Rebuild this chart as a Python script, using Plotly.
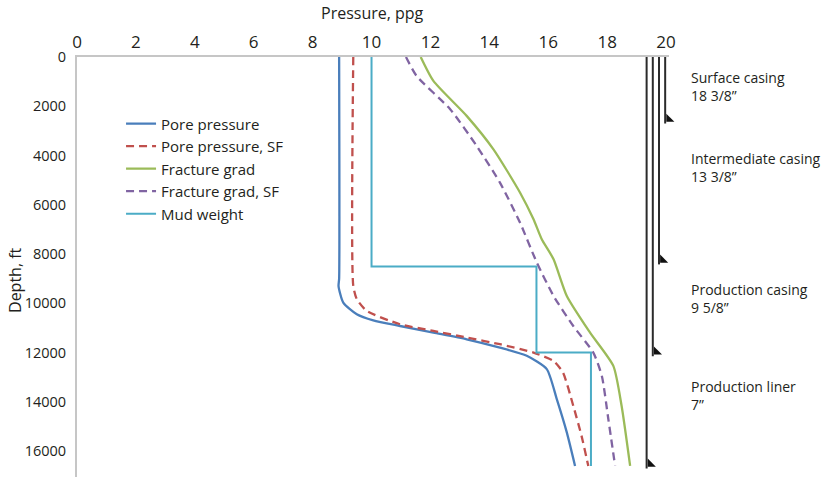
import plotly.graph_objects as go

# ---- data ----
pore_depth = [0, 9000, 9300, 9970, 10440, 10690, 10920, 11190, 11460, 11800, 12130, 12670, 13890, 15240, 16600]
pore_ppg = [8.9, 8.9, 8.88, 9.04, 9.5, 10.06, 10.97, 12.1, 13.23, 14.36, 15.27, 15.95, 16.29, 16.63, 16.91]

pore_sf_depth = [0, 9290, 9830, 10310, 10850, 11120, 11390, 11660, 12000, 12340, 12810, 14160, 15380, 16600]
pore_sf_ppg = [9.38, 9.38, 9.5, 9.84, 10.97, 12.1, 13.23, 14.36, 15.5, 16.18, 16.5, 16.85, 17.13, 17.36]

frac_depth = [0, 970, 2390, 3750, 5500, 6590, 7400, 8210, 9700, 11190, 12540, 14160, 16600]
frac_ppg = [11.67, 12.1, 13.23, 14.14, 15.04, 15.5, 15.78, 16.18, 16.63, 17.42, 18.21, 18.49, 18.78]

frac_sf_depth = [0, 770, 2120, 3610, 5100, 6720, 8340, 9700, 10920, 12000, 12950, 14700, 16600]
frac_sf_ppg = [11.17, 11.53, 12.67, 13.57, 14.36, 15.04, 15.61, 16.18, 16.85, 17.53, 17.82, 18.04, 18.27]

mud_depth = [0, 8500, 8500, 12000, 12000, 16600]
mud_ppg = [10.0, 10.0, 15.6, 15.6, 17.45, 17.45]

casing_names = ["Surface casing", "Intermediate casing", "Production casing", "Production liner"]
casing_sizes = ["18 3/8\u201d", "13 3/8\u201d", "9 5/8\u201d", "7\u201d"]
casing_shoe_depth = [2700, 8420, 12150, 16700]
casing_label_depth = [1210, 4480, 9790, 13750]
casing_line_x = [19.97, 19.76, 19.55, 19.34]

x_ticks = list(range(0, 21, 2))
y_ticks = list(range(0, 16001, 2000))

TXT = "#231f20"
FONT = "Open Sans, Lato, sans-serif"

fig = go.Figure()

fig.add_trace(go.Scatter(x=pore_ppg, y=pore_depth, mode="lines", name="Pore pressure",
                         line=dict(color="#4A7EBB", width=2.3, shape="spline", smoothing=0.6)))
fig.add_trace(go.Scatter(x=pore_sf_ppg, y=pore_sf_depth, mode="lines", name="Pore pressure, SF",
                         line=dict(color="#C0504D", width=2.3, dash="8px,5px", shape="spline", smoothing=0.6)))
fig.add_trace(go.Scatter(x=frac_ppg, y=frac_depth, mode="lines", name="Fracture grad",
                         line=dict(color="#9BBB59", width=2.3, shape="spline", smoothing=0.6)))
fig.add_trace(go.Scatter(x=frac_sf_ppg, y=frac_sf_depth, mode="lines", name="Fracture grad, SF",
                         line=dict(color="#8064A2", width=2.3, dash="8px,5px", shape="spline", smoothing=0.6)))
fig.add_trace(go.Scatter(x=mud_ppg, y=mud_depth, mode="lines", name="Mud weight",
                         line=dict(color="#4BACC6", width=2)))

# casing strings
for cx, shoe in zip(casing_line_x, casing_shoe_depth):
    fig.add_trace(go.Scatter(x=[cx, cx], y=[0, shoe], mode="lines", showlegend=False,
                             line=dict(color="#2b2b2b", width=2), hoverinfo="skip"))
    fig.add_trace(go.Scatter(x=[cx + 0.13], y=[shoe - 180], mode="markers", showlegend=False,
                             marker=dict(symbol="triangle-sw", size=9, color="#111"),
                             cliponaxis=False, hoverinfo="skip"))

for name, size, d in zip(casing_names, casing_sizes, casing_label_depth):
    fig.add_annotation(x=1.034, y=d, xref="paper", yref="y", text=f"{name}<br>{size}",
                       showarrow=False, xanchor="left", yanchor="middle", align="left",
                       font=dict(family=FONT, size=14, color=TXT))

fig.add_annotation(x=0.4987, y=1.105, xref="paper", yref="paper", text="Pressure, ppg",
                   showarrow=False, xanchor="center", yanchor="middle",
                   font=dict(family=FONT, size=16, color=TXT))
fig.add_annotation(x=-0.1048, y=0.469, xref="paper", yref="paper", text="Depth, ft",
                   showarrow=False, xanchor="center", yanchor="middle", textangle=-90,
                   font=dict(family=FONT, size=16, color=TXT))

fig.update_layout(
    width=823, height=477,
    margin=dict(l=77, r=154, t=57, b=0),
    paper_bgcolor="white", plot_bgcolor="white",
    font=dict(family=FONT, color=TXT),
    showlegend=True,
    legend=dict(x=0.0744, y=0.88, xanchor="left", yanchor="top", bgcolor="rgba(0,0,0,0)",
                font=dict(family=FONT, size=15, color=TXT), itemwidth=30,
                tracegroupgap=0),
    xaxis=dict(side="top", range=[0, 20.1], tickvals=x_ticks, showgrid=False, zeroline=False,
               showline=True, linecolor="#c6c6c6", linewidth=2, ticks="",
               tickfont=dict(family=FONT, size=17, color=TXT)),
    yaxis=dict(range=[17050, 0], tickvals=y_ticks, tickformat="d", showgrid=False, zeroline=False,
               showline=True, linecolor="#c6c6c6", linewidth=2, ticks="", ticklabelstandoff=6,
               tickfont=dict(family=FONT, size=14.5, color=TXT)),
)

fig.write_html("out.html", config={"displayModeBar": False},
               post_script="document.body.style.margin='0';")
